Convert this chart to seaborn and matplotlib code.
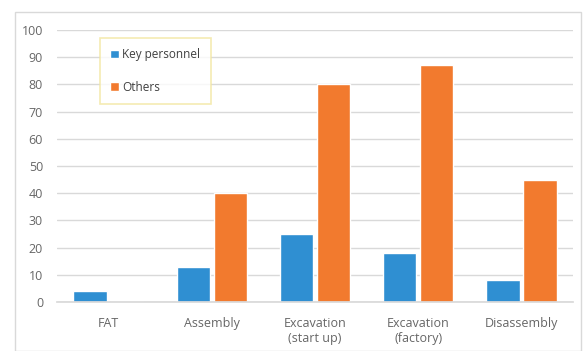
import matplotlib
matplotlib.use("Agg")
import matplotlib.pyplot as plt
import seaborn as sns
import pandas as pd
from matplotlib.patches import Rectangle

categories = ["FAT", "Assembly", "Excavation\n(start up)", "Excavation\n(factory)", "Disassembly"]
key_personnel = [4, 13, 25, 18, 8]
others = [0, 40, 80, 87, 45]
series_names = ["Key personnel", "Others"]
yticks = [0, 10, 20, 30, 40, 50, 60, 70, 80, 90, 100]

df = pd.DataFrame({
    "category": categories * 2,
    "series": [series_names[0]] * len(categories) + [series_names[1]] * len(categories),
    "value": key_personnel + others,
})

sns.set_theme(style="white")
plt.rcParams["font.family"] = ["Open Sans", "DejaVu Sans"]

fig = plt.figure(figsize=(5.84, 3.51), dpi=100)
fig.patch.set_facecolor("white")
fig.add_artist(Rectangle((15 / 584, 0.0), (581 - 15) / 584, 1 - 12 / 351,
                         transform=fig.transFigure, fill=False,
                         edgecolor="#d9d9d9", linewidth=1.0))

ax = fig.add_axes([57 / 584, 1 - 302 / 351, (573 - 57) / 584, (302 - 30) / 351])
palette = {"Key personnel": "#2f8fd2", "Others": "#f27a2e"}
sns.barplot(data=df, x="category", y="value", hue="series", order=categories,
            hue_order=series_names, palette=palette, width=0.72, gap=0.1,
            saturation=1, ax=ax)

ax.set_ylim(0, 100)
ax.set_yticks(yticks)
ax.set_xlabel("")
ax.set_ylabel("")
ax.yaxis.grid(True, color="#d9d9d9", linewidth=1.0)
ax.set_axisbelow(True)
for s in ["top", "right", "left"]:
    ax.spines[s].set_visible(False)
ax.spines["bottom"].set_color("#d9d9d9")
ax.tick_params(axis="both", colors="#666666", labelsize=9, length=0)
ax.tick_params(axis="y", pad=10)
ax.tick_params(axis="x", pad=11)

leg = ax.legend(loc="upper left", bbox_to_anchor=(0.083, 0.972), frameon=True,
                fontsize=8.5, labelspacing=1.65, handlelength=0.7, handleheight=0.7,
                handletextpad=0.3, borderpad=0.9, borderaxespad=0, fancybox=False)
leg.get_frame().set_edgecolor("#f2e6a0")
leg.get_frame().set_linewidth(1.2)
for t in leg.get_texts():
    t.set_color("#404040")

fig.savefig("out.png", dpi=100)
